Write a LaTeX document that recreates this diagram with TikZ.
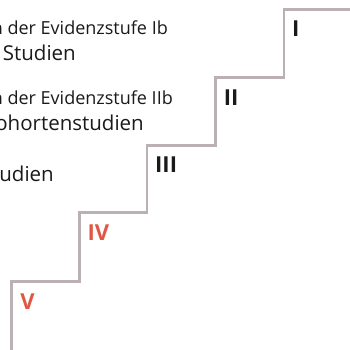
\documentclass[tikz,border=0pt]{standalone}
\usepackage{fontspec}
\setmainfont{Open Sans}
\definecolor{stairgrey}{RGB}{187,176,179}
\definecolor{levelred}{RGB}{224,88,68}
\definecolor{textblack}{RGB}{26,26,26}
\begin{document}
\begin{tikzpicture}[x=1pt,y=-1pt,
  stair/.style={draw=stairgrey,line width=2.6pt,line join=miter},
  level/.style={anchor=base west,inner sep=0pt,font=\fontsize{22}{24}\selectfont\bfseries},
  small/.style={anchor=base east,inner sep=0pt,text=textblack,font=\fontsize{18}{20}\selectfont},
  large/.style={anchor=base east,inner sep=0pt,text=textblack,font=\fontsize{20.5}{22}\selectfont}]
\useasboundingbox (0,0) rectangle (350,349);
\clip (0,0) rectangle (350,349);

% corners of the staircase
\coordinate (s0) at (11.7,360);
\coordinate (s1) at (11.7,281.7);
\coordinate (s2) at (79.3,281.7);
\coordinate (s3) at (79.3,212.7);
\coordinate (s4) at (147,212.7);
\coordinate (s5) at (147,145.3);
\coordinate (s6) at (215.7,145.3);
\coordinate (s7) at (215.7,77.7);
\coordinate (s8) at (284,77.7);
\coordinate (s9) at (284,9.3);
\coordinate (s10) at (360,9.3);
\draw[stair] (s0) -- (s1) -- (s2) -- (s3) -- (s4) -- (s5) -- (s6) -- (s7) -- (s8) -- (s9) -- (s10);

% level numerals on each step
\node[level,text=textblack] (l1) at (292,36.8) {I};
\node[level,text=textblack] (l2) at (223.7,105.2) {II};
\node[level,text=textblack] (l3) at (155,172.8) {III};
\node[level,text=levelred] (l4) at (87.3,240.2) {IV};
\node[level,text=levelred] (l5) at (20.2,309.2) {V};

% descriptions
\node[small] (d1a) at (168,34) {n der Evidenzstufe Ib};
\node[large] (d1b) at (76,60) {Studien};
\node[small] (d2a) at (173,104) {n der Evidenzstufe IIb};
\node[large] (d2b) at (144,130) {Kohortenstudien};
\node[large] (d3) at (54,181.7) {udien};
\end{tikzpicture}
\end{document}
